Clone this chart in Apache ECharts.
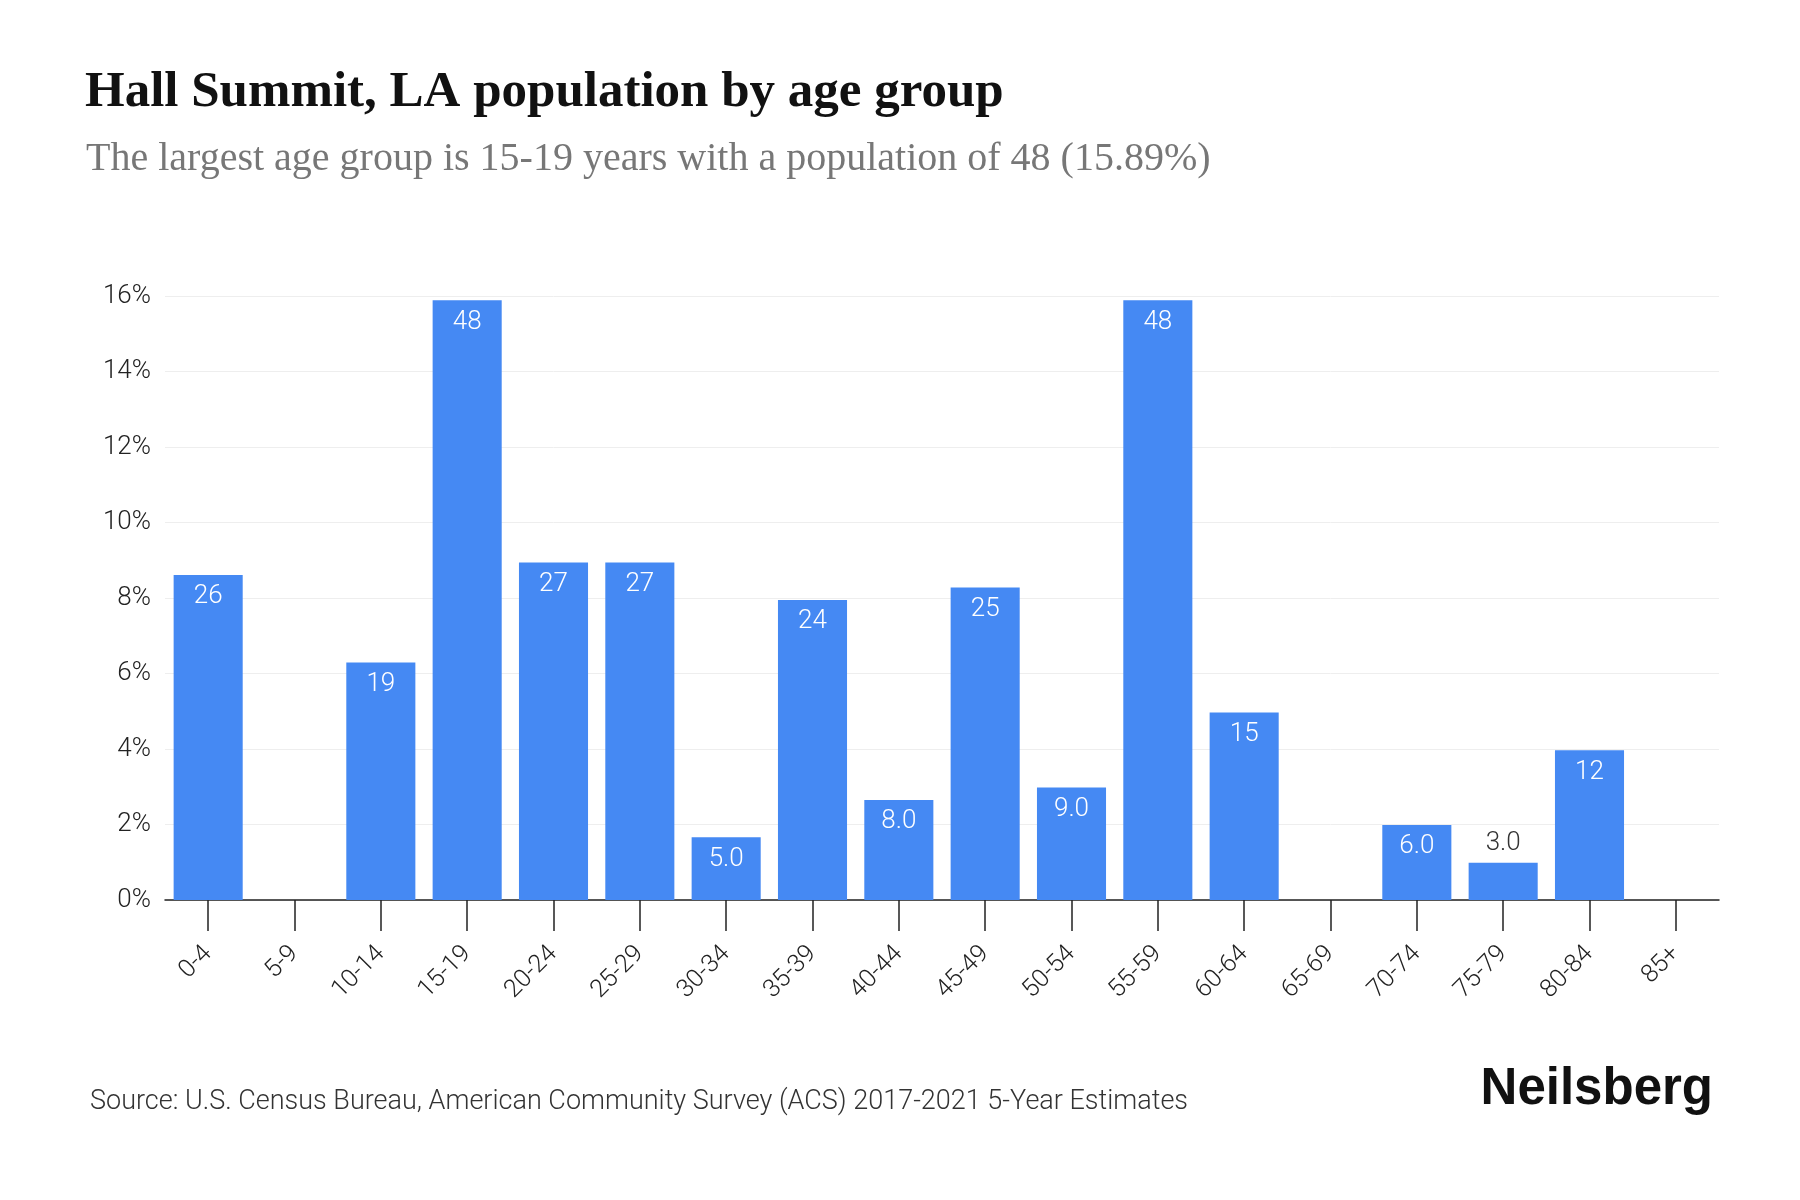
<!DOCTYPE html>
<html>
<head>
<meta charset="utf-8">
<script src="https://cdn.jsdelivr.net/npm/echarts@6/dist/echarts.min.js"></script>
<style>
  html,body{margin:0;padding:0;background:#fff}
  #main{width:1800px;height:1200px}
</style>
</head>
<body>
<div id="main"></div>
<script>
// age groups
let ageGroups=['0-4','5-9','10-14','15-19','20-24','25-29','30-34','35-39','40-44','45-49','50-54','55-59','60-64','65-69','70-74','75-79','80-84','85+']
// population per group (bar labels)
let population=[26,0,19,48,27,27,5,24,8,25,9,48,15,0,6,3,12,0]
// share of total population, % (bar heights)
let share=[8.61,0,6.29,15.89,8.94,8.94,1.66,7.95,2.65,8.28,2.98,15.89,4.97,0,1.99,0.99,3.97,0]
let yTicks=[0,2,4,6,8,10,12,14,16]

let labelFont='Roboto'
function fmt(n){
  if(n==0) return ''
  return n<10 ? n.toFixed(1) : String(n)
}

let barData=share.map((v,i)=>{
  let item={value:v,pop:population[i]}
  //小柱子的标签放在上面
  if(v>0 && v<1.5){
    item.label={position:'top',color:'#333',distance:6}
  }
  return item
})

var myChart=echarts.init(document.getElementById('main'))
let option={
  backgroundColor:'#fff',
  animation:false,
  title:[
    {
      text:'Hall Summit, LA population by age group',
      left:80,top:62,
      textStyle:{fontFamily:'Liberation Serif',fontWeight:'bold',fontSize:51,color:'#111'}
    },
    {
      text:'The largest age group is 15-19 years with a population of 48 (15.89%)',
      left:81,top:134,
      textStyle:{fontFamily:'Liberation Serif',fontWeight:'normal',fontSize:40,color:'#777'}
    },
    {
      text:'Source: U.S. Census Bureau, American Community Survey (ACS) 2017-2021 5-Year Estimates',
      left:85,top:1084,
      textStyle:{fontFamily:labelFont,fontWeight:300,fontSize:27,color:'#333'}
    },
    {
      text:'Neilsberg',
      right:82,top:1059,
      textStyle:{fontFamily:'Liberation Sans',fontWeight:'bold',fontSize:51,color:'#111'}
    }
  ],
  grid:{left:165,right:81,top:296,bottom:300,containLabel:false},
  xAxis:{
    type:'category',
    data:ageGroups,
    axisLine:{lineStyle:{color:'#222',width:1.5}},
    axisTick:{show:true,alignWithLabel:true,length:31,lineStyle:{color:'#222',width:1.5}},
    axisLabel:{rotate:45,fontFamily:labelFont,fontWeight:300,fontSize:25,color:'#222',margin:50,interval:0}
  },
  yAxis:{
    type:'value',
    min:0,max:16,interval:2,
    axisLine:{show:false},
    axisTick:{show:false},
    splitLine:{lineStyle:{color:'#eeeeee',width:1}},
    axisLabel:{formatter:v=>yTicks.includes(v)?v+'%':'',fontFamily:labelFont,fontWeight:300,fontSize:26,color:'#222',margin:14}
  },
  series:[{
    type:'bar',
    data:barData,
    barCategoryGap:'20%',
    itemStyle:{color:'#4589f3'},
    label:{
      show:true,
      position:'insideTop',
      distance:9,
      color:'#fff',
      fontFamily:labelFont,
      fontWeight:300,
      fontSize:26,
      formatter:p=>fmt(p.data.pop)
    }
  }]
}
myChart.setOption(option)
</script>
</body>
</html>
